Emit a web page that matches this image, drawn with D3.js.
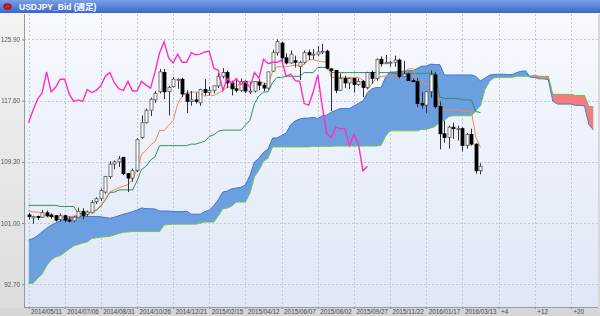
<!DOCTYPE html>
<html><head><meta charset="utf-8">
<script src="https://cdn.jsdelivr.net/npm/d3@7"></script>
<style>body{margin:0;background:#fff;overflow:hidden}svg{display:block}</style>
</head><body>
<svg id="c" width="600" height="316"></svg>
<script>
const title = "USDJPY_Bid (週足)";
const xLabels = ["2014/05/11","2014/07/06","2014/08/31","2014/10/26","2014/12/21","2015/02/15","2015/04/12","2015/06/07","2015/08/02","2015/09/27","2015/11/22","2016/01/17","2016/03/13","+4","+12","+20"];
const xLabelIdx = [0,8,16,24,32,40,48,56,64,72,80,88,96,104,112,120];
const yTicks = [125.90,117.60,109.30,101.00,92.70];

const open = [102.1,101.7,101.9,101.8,102.4,102.1,102.0,101.5,102.0,101.4,
101.3,101.8,102.6,102.2,102.4,103.9,104.3,105.2,107.3,109.0,
109.3,109.9,107.7,107.1,108.1,112.6,114.6,116.3,117.7,118.8,
121.4,118.8,119.5,120.5,120.5,118.5,117.5,117.7,117.3,119.1,
118.7,119.0,119.6,120.9,121.4,120.0,119.2,119.0,120.2,118.9,
118.9,120.1,119.7,119.3,121.6,124.1,125.4,123.4,122.7,123.0,
122.2,122.8,124.1,123.8,123.9,124.2,124.3,121.9,121.7,119.0,
120.6,120.0,120.6,119.8,120.2,119.4,121.4,120.6,123.2,122.6,
122.8,122.8,123.1,120.9,121.2,120.3,120.2,117.2,117.0,118.8,
121.1,116.8,113.1,112.6,114.0,113.8,113.8,111.5,113.0,111.7,
108.1];
const high = [102.4,102.0,102.0,102.8,102.7,102.3,102.1,102.3,102.1,101.9,
101.9,103.1,103.0,102.7,104.1,104.5,105.7,107.4,109.4,109.5,
110.1,110.0,107.8,108.4,112.5,115.6,116.5,118.0,118.9,121.9,
121.9,119.6,120.8,120.6,120.7,119.0,118.9,118.7,119.2,120.5,
119.5,119.6,121.3,122.0,121.7,120.3,120.4,120.6,120.4,120.1,
119.9,120.5,120.0,121.5,124.5,125.9,125.6,124.0,124.4,123.7,
123.0,124.4,124.5,124.6,125.0,125.3,124.5,122.0,121.7,121.3,
121.0,120.7,120.7,120.6,120.4,121.5,121.7,123.3,123.6,123.8,
123.0,123.7,123.3,123.0,121.4,120.6,120.7,118.8,118.9,121.7,
121.5,117.5,114.9,114.2,114.6,114.2,114.0,113.2,113.8,111.8,
109.1];
const low = [101.5,100.9,101.4,101.7,101.8,101.6,101.2,101.2,101.1,101.1,
101.1,101.7,101.5,101.9,102.3,103.6,104.0,105.0,107.0,108.3,
108.6,107.5,105.2,106.6,107.9,112.4,114.5,115.5,117.3,118.6,
117.8,115.6,119.4,119.2,118.1,115.9,116.9,117.2,116.9,118.3,
118.3,118.6,119.3,120.6,119.3,118.3,118.7,118.8,118.6,118.5,
118.7,119.0,118.9,119.1,121.5,123.7,122.5,122.5,122.6,122.1,
120.4,122.6,123.1,123.2,123.6,123.9,121.8,116.2,118.6,118.9,
119.3,119.2,118.7,119.6,118.1,119.2,119.9,120.3,122.2,122.6,
122.2,122.2,120.6,120.8,120.3,120.1,116.7,116.5,115.9,118.0,
116.5,111.0,111.9,111.1,112.4,112.2,110.7,111.1,111.5,107.7,
107.6];
const close = [101.9,101.9,101.8,102.4,102.0,101.9,101.4,102.0,101.4,101.3,
101.8,102.6,102.0,102.5,103.8,104.3,105.4,107.3,109.0,109.3,
109.7,107.7,107.1,108.1,112.3,114.6,116.3,117.8,118.6,121.5,
118.8,119.4,120.5,120.5,118.5,117.5,117.7,117.5,119.1,118.7,
119.0,119.6,120.9,121.4,120.0,119.2,119.0,120.2,118.9,118.9,
120.2,119.7,119.3,121.5,124.1,125.6,123.4,122.7,123.9,122.8,
122.8,124.1,123.8,123.9,124.2,124.3,122.0,121.7,119.0,120.6,
120.0,120.6,119.8,120.2,119.4,121.4,120.6,123.2,122.6,122.8,
122.8,123.1,120.9,121.2,120.3,120.2,117.2,117.0,118.8,121.1,
116.8,113.1,112.6,114.0,113.8,113.8,111.5,113.0,111.7,108.1,
108.7];
const tenkan = [102.7,102.5,102.5,102.4,101.85,101.85,101.85,101.85,101.85,101.85,
101.95,102.1,102.1,102.1,102.6,102.8,103.4,104.25,105.25,105.5,
105.8,106.0,106.2,106.85,108.25,110.3,110.85,111.6,112.05,113.55,
113.55,114.25,114.9,117.15,118.2,118.7,118.75,118.75,118.75,118.2,
118.35,118.3,118.6,118.95,119.45,119.45,119.45,120.15,120.15,120.15,
120.15,120.15,120.0,119.9,121.5,122.2,122.2,122.2,122.3,122.4,
122.4,122.5,123.15,123.15,123.0,122.85,122.85,120.75,120.75,120.75,
120.75,120.75,120.75,120.75,120.35,119.1,119.9,120.7,120.85,120.95,
120.95,120.95,120.95,121.5,121.85,121.95,120.25,120.15,119.8,119.8,
119.6,117.0,116.35,116.35,116.35,116.35,116.2,116.2,116.1,112.6,
111.25];
const kijun = [103.4,103.4,103.4,103.4,103.4,103.4,103.4,103.25,103.25,103.25,
103.25,102.3,102.3,102.3,102.5,102.7,103.3,104.15,105.15,105.2,
105.5,105.5,105.5,105.5,106.7,108.25,108.7,109.55,110.0,111.5,
111.5,111.5,111.5,111.5,111.5,111.5,111.7,111.7,111.9,112.1,
112.75,112.95,113.45,113.6,113.6,113.6,113.6,113.6,114.3,114.95,
117.2,118.25,118.75,118.8,120.05,120.75,120.75,120.9,120.9,120.9,
120.9,121.4,121.4,121.4,122.1,122.1,122.1,121.4,121.4,121.4,
121.4,121.4,121.4,121.4,121.4,121.4,121.4,121.4,121.4,121.4,
121.4,121.3,121.3,121.3,121.3,121.3,121.3,121.3,121.3,121.3,
121.3,118.1,117.9,117.9,117.9,117.9,117.7,117.7,117.7,116.1,
116.0];
const spanA = [98.7,98.9,99.3,99.8,100.3,100.7,101.0,101.3,101.5,101.7,
101.85,101.9,101.9,101.9,101.9,101.9,101.85,101.75,101.65,101.8,
102.0,102.2,102.35,102.55,102.75,103.05,102.95,102.95,102.9,102.63,
102.63,102.63,102.55,102.55,102.55,102.6,102.2,102.2,102.2,102.55,
102.75,103.35,104.2,105.2,105.35,105.65,105.75,105.85,106.18,107.48,
109.28,109.78,110.58,111.03,112.53,112.53,112.88,113.2,114.33,114.85,
115.1,115.23,115.23,115.33,115.15,115.55,115.63,116.03,116.28,116.53,
116.53,116.53,116.88,117.23,117.55,118.68,119.2,119.38,119.35,120.78,
121.48,121.48,121.55,121.6,121.65,121.65,121.95,122.28,122.28,122.55,
122.48,122.48,121.08,121.08,121.08,121.08,121.08,121.08,121.08,120.88,
120.25,120.65,121.05,121.13,121.18,121.18,121.13,121.13,121.4,121.58,
121.63,120.78,120.73,120.55,120.55,120.45,117.55,117.13,117.13,117.13,
117.13,116.95,116.95,116.9,114.35,113.63];
const spanB = [92.85,92.85,93.5,94.1,95.2,96.0,96.4,96.6,97.0,97.5,
97.9,98.1,98.3,98.45,98.9,99.0,99.1,99.15,99.2,99.4,
99.6,99.75,99.8,99.85,99.85,99.85,99.85,99.85,99.85,99.85,
100.75,100.8,100.85,100.85,100.85,100.85,100.85,100.85,101.0,101.15,
101.15,101.15,101.98,102.98,103.03,103.33,103.85,103.85,103.85,105.05,
107.3,108.15,109.4,109.8,111.33,111.33,111.33,111.33,111.33,111.33,
111.33,111.33,111.33,111.4,111.4,111.4,111.4,111.4,111.45,111.45,
111.45,111.45,111.45,111.45,111.45,111.45,111.45,111.45,111.55,112.8,
113.5,113.5,113.5,113.5,113.5,113.5,113.5,113.7,113.7,113.9,
114.1,114.75,114.95,115.45,115.55,115.55,115.55,115.55,115.55,116.25,
116.9,119.15,120.2,120.7,120.75,120.75,120.75,120.75,120.9,120.9,
120.9,120.9,121.05,120.9,120.9,120.9,118.45,118.45,118.45,118.45,
118.45,118.3,118.3,118.3,116.8,116.75];
const chikouShift = 25;

const svg = d3.select("#c");
const L = 24, R = 598, T = 14, B = 307;
const x = d3.scaleLinear().domain([-1, 126]).range([L, R]);
const y = d3.scaleLinear().domain([92.7, 125.9]).range([284.3, 39.4]);

const defs = svg.append("defs");
function grad(id, stops, x2, y2) {
  const g = defs.append("linearGradient").attr("id", id).attr("x1",0).attr("y1",0).attr("x2",x2).attr("y2",y2);
  stops.forEach(s => g.append("stop").attr("offset", s[0]).attr("stop-color", s[1]));
}
grad("gTitle", [[0,"#7c9fe6"],[0.5,"#5a83d8"],[1,"#3c66c4"]], 0, 1);
grad("gPlot", [[0,"#f7f9fe"],[1,"#dfe7f6"]], 0, 1);
grad("gOuter", [[0,"#f4f4f4"],[1,"#dcdcdc"]], 0, 1);
defs.append("clipPath").attr("id","cp").append("rect").attr("x",L).attr("y",T).attr("width",R-L).attr("height",B-T);

// backgrounds
svg.append("rect").attr("width",600).attr("height",316).attr("fill","url(#gOuter)");
svg.append("rect").attr("x",L).attr("y",T).attr("width",R-L).attr("height",B-T).attr("fill","url(#gPlot)");
svg.append("rect").attr("x",0).attr("y",B+1).attr("width",600).attr("height",316-B-1).attr("fill","#d6d6d6");

// title bar
svg.append("rect").attr("x",0).attr("y",0).attr("width",600).attr("height",13).attr("fill","url(#gTitle)");
svg.append("rect").attr("x",4).attr("y",4).attr("width",7).attr("height",5).attr("rx",2).attr("fill","#e8141c").attr("stroke","#900","stroke-width",0.5);
svg.append("text").attr("x",19).attr("y",10).attr("fill","#fff").attr("font-weight","bold")
  .attr("font-family","'Liberation Sans','Noto Sans CJK JP',Arial,sans-serif").attr("font-size",8.5).text(title);

// grid
const gridG = svg.append("g");
gridG.selectAll("line.h").data(yTicks).join("line").attr("x1",L).attr("x2",R)
  .attr("y1",d=>Math.round(y(d))+0.5).attr("y2",d=>Math.round(y(d))+0.5)
  .attr("stroke","#c4c8d0").attr("stroke-dasharray","2,2");
gridG.selectAll("line.v").data(xLabelIdx).join("line").attr("y1",T).attr("y2",B)
  .attr("x1",d=>Math.round(x(d))+0.5).attr("x2",d=>Math.round(x(d))+0.5)
  .attr("stroke","#c4c8d0").attr("stroke-dasharray","2,2");

// axes
const font = "'Liberation Sans',Arial,sans-serif";
const yAxis = svg.append("g").attr("transform",`translate(${L},0)`)
  .call(d3.axisLeft(y).tickValues(yTicks).tickFormat(d3.format(".2f")).tickSize(2).tickPadding(2));
yAxis.select(".domain").remove();
yAxis.selectAll("line").attr("stroke","#888");
yAxis.selectAll("text").attr("font-family",font).attr("font-size",6.3).attr("fill","#555");
const xAxis = svg.append("g").attr("transform",`translate(0,${B})`)
  .call(d3.axisBottom(x).tickValues(xLabelIdx).tickFormat((d,i)=>xLabels[i]).tickSize(2).tickPadding(1));
xAxis.select(".domain").remove();
xAxis.selectAll("line").attr("stroke","#888");
xAxis.selectAll("text").attr("font-family",font).attr("font-size",6.3).attr("fill","#444")
  .attr("text-anchor","start").attr("dx",2);
svg.append("line").attr("x1",L+0.5).attr("x2",L+0.5).attr("y1",T).attr("y2",B).attr("stroke","#9a9a9a");
svg.append("line").attr("x1",L).attr("x2",R).attr("y1",B+0.5).attr("y2",B+0.5).attr("stroke","#9a9a9a");

const plotG = svg.append("g").attr("clip-path","url(#cp)");

// cloud
const cloudIdx = d3.range(spanA.length);
const areaAB = d3.area().x(i=>x(i)).y0(i=>y(spanB[i])).y1(i=>y(spanA[i]));
defs.append("clipPath").attr("id","aboveB").append("path")
  .attr("d", d3.area().x(i=>x(i)).y0(T-10).y1(i=>y(spanB[i]))(cloudIdx));
defs.append("clipPath").attr("id","aboveA").append("path")
  .attr("d", d3.area().x(i=>x(i)).y0(T-10).y1(i=>y(spanA[i]))(cloudIdx));
plotG.append("path").attr("d",areaAB(cloudIdx)).attr("fill","#6b9fe0").attr("clip-path","url(#aboveB)");
plotG.append("path").attr("d",areaAB(cloudIdx)).attr("fill","#f77b7b").attr("clip-path","url(#aboveA)");
const lineOf = arr => d3.line().x((d,i)=>x(i)).y(d=>y(d))(arr);
plotG.append("path").attr("d",lineOf(spanB)).attr("fill","none").attr("stroke","#6cc04a").attr("stroke-width",1);
plotG.append("path").attr("d",lineOf(spanA)).attr("fill","none").attr("stroke","#3b78d8").attr("stroke-width",1);

// kijun, tenkan
plotG.append("path").attr("d",lineOf(kijun)).attr("fill","none").attr("stroke","#2f9060").attr("stroke-width",1);
plotG.append("path").attr("d",lineOf(tenkan)).attr("fill","none").attr("stroke","#f58a4a").attr("stroke-width",1);

// candles
const cg = plotG.append("g");
const idx = d3.range(open.length);
cg.selectAll("line.w").data(idx).join("line")
  .attr("x1",i=>Math.round(x(i))+0.5).attr("x2",i=>Math.round(x(i))+0.5)
  .attr("y1",i=>y(high[i])).attr("y2",i=>y(low[i])).attr("stroke","#333").attr("stroke-width",1);
cg.selectAll("rect").data(idx).join("rect")
  .attr("x",i=>Math.round(x(i))-1)
  .attr("y",i=>y(Math.max(open[i],close[i])))
  .attr("width",3)
  .attr("height",i=>Math.max(1,Math.abs(y(open[i])-y(close[i]))))
  .attr("fill",i=>close[i]>=open[i]?"#ffffff":"#000000")
  .attr("stroke",i=>close[i]>=open[i]?"#555":"#000").attr("stroke-width",0.8);

// chikou
const chik = close.slice(chikouShift);
plotG.append("path").attr("d",lineOf(chik)).attr("fill","none").attr("stroke","#ff2ec4").attr("stroke-width",1.4);

// right border
svg.append("rect").attr("x",R).attr("y",T).attr("width",600-R).attr("height",B-T).attr("fill","#d8d8d8");
</script>
</body></html>
